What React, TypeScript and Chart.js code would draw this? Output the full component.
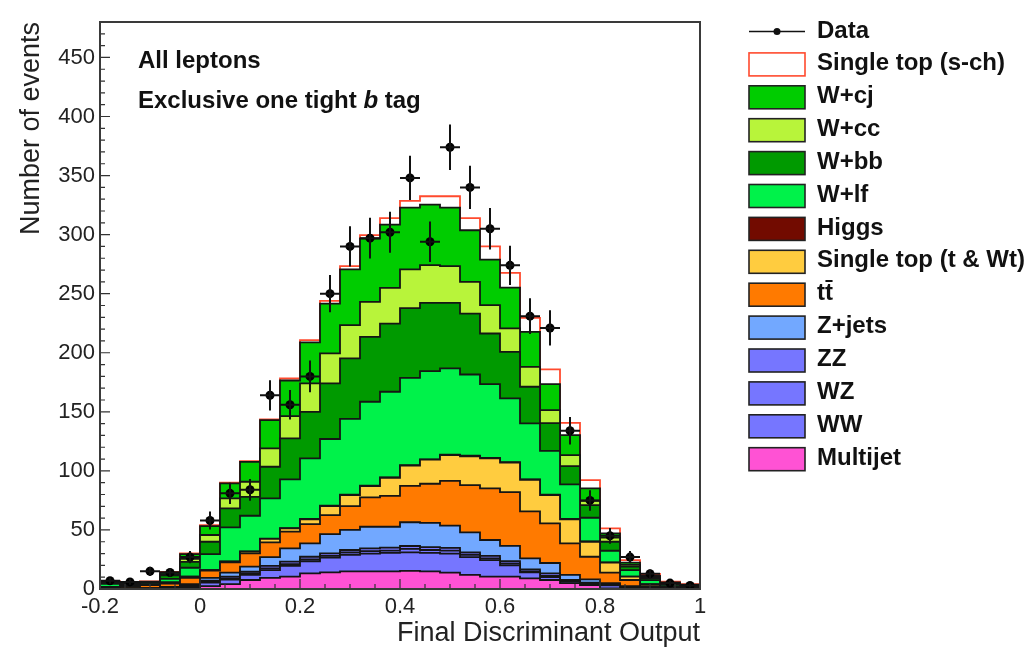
import React, { useEffect, useRef } from "react";
import { Chart, registerables } from "chart.js";

Chart.register(...registerables);

const FONT = "'Liberation Sans', Arial, Helvetica, sans-serif";

// ---- binning (31 edges -> 30 bins) ----
const binEdges = [-0.2, -0.16, -0.12, -0.08, -0.04, 0.0, 0.04, 0.08, 0.12, 0.16, 0.2, 0.24, 0.28, 0.32, 0.36, 0.4, 0.44, 0.48, 0.52, 0.56, 0.6, 0.64, 0.68, 0.72, 0.76, 0.8, 0.84, 0.88, 0.92, 0.96, 1.0];

// ---- observed data ----
const dataCounts = [7, 6, 15, 14, 27, 58, 81, 84, 164, 156, 180, 250, 290, 297, 302, 348, 294, 374, 340, 305, 274, 231, 221, 134, 75, 45, 27, 13, 5, 3];
const dataErrors = [2.6, 2.4, 3.9, 3.7, 5.2, 7.6, 9.0, 9.2, 12.8, 12.5, 13.4, 15.8, 17.0, 17.2, 17.4, 18.7, 17.1, 19.3, 18.4, 17.5, 16.6, 15.2, 14.9, 11.6, 8.7, 6.7, 5.2, 3.6, 2.2, 1.7];

// ---- stacked backgrounds (bottom to top), events per bin ----
const multijet = [0.1, 0.1, 0.1, 0.3, 1.0, 2.5, 4.2, 7.6, 9.5, 10.4, 13.3, 14.0, 15.0, 15.0, 15.0, 15.3, 15.0, 13.8, 12.0, 10.4, 10.4, 9.0, 7.6, 5.0, 3.4, 0.5, 0.5, 0.2, 0.1, 0.0];
const ww = [0.1, 0.1, 0.2, 0.5, 1.0, 3.0, 3.8, 4.4, 6.5, 9.1, 10.2, 12.5, 14.0, 15.0, 15.5, 15.7, 15.5, 16.2, 15.0, 14.1, 9.6, 5.0, 2.4, 1.2, 1.1, 2.5, 0.9, 0.3, 0.1, 0.1];
const wz = [0.1, 0.0, 0.1, 0.2, 0.5, 0.5, 1.0, 1.0, 1.5, 1.5, 1.5, 1.5, 2.0, 2.0, 2.0, 3.0, 2.5, 2.5, 2.0, 1.5, 1.5, 1.0, 1.0, 0.7, 0.4, 0.5, 0.2, 0.1, 0.1, 0.0];
const zz = [0.1, 0.1, 0.1, 0.2, 0.5, 1.0, 1.4, 1.6, 2.0, 2.1, 2.3, 2.2, 2.0, 2.4, 2.5, 2.4, 2.5, 2.3, 2.0, 2.0, 2.0, 1.6, 2.3, 0.9, 0.4, 0.5, 0.2, 0.1, 0.0, 0.1];
const zjets = [0.2, 0.2, 0.3, 0.6, 1.2, 2.5, 3.4, 4.3, 7.5, 11.3, 11.3, 16.3, 17.0, 18.3, 17.7, 20.1, 20.5, 18.8, 17.0, 13.5, 13.0, 9.4, 8.7, 4.2, 2.9, 1.0, 0.7, 0.3, 0.2, 0.1];
const ttbar = [0.9, 1.3, 2.6, 2.7, 5.3, 6.0, 8.7, 11.3, 12.5, 14.1, 16.4, 16.1, 20.2, 24.9, 26.1, 30.8, 33.1, 38.0, 40.0, 43.7, 45.5, 39.7, 33.6, 26.6, 19.1, 8.8, 5.1, 1.5, 0.5, 0.2];
const singleTopT = [0.3, 0.2, 0.4, 1.0, 1.0, 0.5, 0.6, 1.4, 3.0, 2.8, 4.0, 7.6, 9.3, 9.5, 15.4, 17.2, 20.4, 21.8, 24.4, 25.5, 25.0, 26.8, 23.9, 20.4, 12.7, 8.5, 2.8, 1.5, 1.0, 0.5];
const higgs = [0, 0, 0, 0, 0, 0, 0.2, 0.2, 0.2, 0.3, 0.3, 0.3, 0.3, 0.3, 0.3, 0.3, 0.3, 0.4, 0.4, 0.3, 0.3, 0.3, 0.3, 0.3, 0.3, 0.2, 0.1, 0.2, 0, 0];
const wlf = [2.6, 1.0, 1.5, 3.0, 7.5, 13.6, 28.9, 30.2, 34.0, 41.2, 51.3, 56.5, 64.2, 71.1, 72.5, 74.0, 74.6, 72.9, 68.8, 62.4, 54.0, 47.4, 37.2, 29.3, 20.0, 9.9, 5.5, 3.3, 1.5, 1.0];
const wbb = [0.9, 1.2, 0.6, 3.0, 5.0, 10.4, 16.0, 16.0, 26.8, 34.7, 39.4, 47.0, 51.2, 55.0, 57.6, 59.0, 57.8, 55.5, 51.6, 42.9, 39.5, 31.0, 23.5, 15.4, 10.7, 7.6, 3.0, 1.5, 1.0, 1.0];
const wcc = [0.5, 0.4, 0.2, 1.0, 2.5, 5.7, 8.5, 12.8, 15.5, 18.9, 24.0, 25.4, 28.2, 29.5, 30.4, 32.8, 31.9, 31.1, 26.8, 24.0, 19.8, 16.8, 10.9, 9.4, 3.7, 3.5, 1.5, 1.0, 0.5, 0.3];
const wcj = [0.4, 0.4, 0.2, 1.5, 4.0, 7.6, 12.7, 16.9, 24.0, 30.1, 34.7, 42.2, 47.1, 53.7, 53.4, 52.3, 51.3, 49.6, 43.7, 38.6, 34.6, 29.7, 22.0, 16.9, 10.5, 3.6, 1.8, 1.0, 0.5, 0.3];
const singleTopS = [0.3, 0.2, 0.2, 0.5, 0.7, 0.7, 0.6, 0.5, 0.6, 1.7, 2.0, 2.3, 2.8, 2.8, 5.6, 5.6, 7.1, 9.6, 10.3, 11.1, 12.4, 11.8, 12.5, 10.4, 7.0, 4.2, 2.2, 1.7, 0.7, 0.6];

// ---- axis ticks ----
const xTickValues = [-0.2, 0, 0.2, 0.4, 0.6, 0.8, 1];
const xTickLabels = ["-0.2", "0", "0.2", "0.4", "0.6", "0.8", "1"];
const yTickValues = [0, 50, 100, 150, 200, 250, 300, 350, 400, 450];
const yTickLabels = ["0", "50", "100", "150", "200", "250", "300", "350", "400", "450"];

const PURPLE = "#7676ff";
const components = [
  { label: "Multijet", values: multijet, fill: "#ff52d4", line: "#151515" },
  { label: "WW", values: ww, fill: PURPLE, line: "#151515" },
  { label: "WZ", values: wz, fill: PURPLE, line: "#151515" },
  { label: "ZZ", values: zz, fill: PURPLE, line: "#151515" },
  { label: "Z+jets", values: zjets, fill: "#72a8ff", line: "#151515" },
  { label: "t\u0074\u0304", values: ttbar, fill: "#ff7a00", line: "#151515" },
  { label: "Single top (t & Wt)", values: singleTopT, fill: "#ffcc3f", line: "#151515" },
  { label: "Higgs", values: higgs, fill: "#720b00", line: "#151515" },
  { label: "W+lf", values: wlf, fill: "#00f24a", line: "#151515" },
  { label: "W+bb", values: wbb, fill: "#009a00", line: "#151515" },
  { label: "W+cc", values: wcc, fill: "#b8f43a", line: "#151515" },
  { label: "W+cj", values: wcj, fill: "#00cc00", line: "#151515" },
  { label: "Single top (s-ch)", values: singleTopS, fill: "#ffffff", line: "#ff4a2e" },
];

const legendOrder = [
  "Single top (s-ch)", "W+cj", "W+cc", "W+bb", "W+lf", "Higgs",
  "Single top (t & Wt)", "t\u0074\u0304", "Z+jets", "ZZ", "WZ", "WW", "Multijet",
];

const nBins = binEdges.length - 1;
const binCenters = dataCounts.map((_, i) => (binEdges[i] + binEdges[i + 1]) / 2);

function cumulative() {
  const out: number[][] = [];
  let run = new Array(nBins).fill(0);
  components.forEach((c) => {
    run = run.map((v, i) => v + c.values[i]);
    out.push(run.slice());
  });
  return out;
}

const decorPlugin = {
  id: "rootDecor",
  afterDatasetsDraw(chart: any) {
    const { ctx } = chart;
    const x = chart.scales.x;
    const y = chart.scales.y;
    ctx.save();
    ctx.strokeStyle = "#111";
    ctx.lineWidth = 2;
    dataCounts.forEach((n, i) => {
      const cx = x.getPixelForValue(binCenters[i]);
      const cy = y.getPixelForValue(n);
      const t = y.getPixelForValue(n + dataErrors[i]);
      const b = y.getPixelForValue(Math.max(0, n - dataErrors[i]));
      const l = x.getPixelForValue(binEdges[i]);
      const r = x.getPixelForValue(binEdges[i + 1]);
      ctx.beginPath();
      ctx.moveTo(cx, t);
      ctx.lineTo(cx, b);
      ctx.moveTo(l, cy);
      ctx.lineTo(r, cy);
      ctx.stroke();
    });
    ctx.restore();
  },
  afterDraw(chart: any) {
    const { ctx, chartArea: a } = chart;
    const x = chart.scales.x;
    const y = chart.scales.y;
    ctx.save();
    // inward ticks
    ctx.strokeStyle = "#333";
    ctx.lineWidth = 1.2;
    ctx.beginPath();
    for (let v = 0; v < 480; v += 10) {
      const py = y.getPixelForValue(v);
      const major = v % 50 === 0;
      ctx.moveTo(a.left, py);
      ctx.lineTo(a.left + (major ? 10 : 5), py);
    }
    for (let k = 0; k <= 24; k++) {
      const px = x.getPixelForValue(-0.2 + k * 0.05);
      const major = k % 4 === 0;
      ctx.moveTo(px, a.bottom);
      ctx.lineTo(px, a.bottom - (major ? 10 : 5));
    }
    ctx.stroke();
    // frame
    ctx.lineWidth = 2;
    ctx.strokeStyle = "#3a3a3a";
    ctx.strokeRect(a.left, a.top, a.right - a.left, a.bottom - a.top);

    // annotations
    ctx.fillStyle = "#111";
    ctx.textBaseline = "middle";
    ctx.textAlign = "left";
    ctx.font = `bold 24px ${FONT}`;
    ctx.fillText("All leptons", 138, 61);
    let tx = 138;
    const seg1 = "Exclusive one tight ";
    ctx.fillText(seg1, tx, 101);
    tx += ctx.measureText(seg1).width;
    ctx.font = `italic bold 24px ${FONT}`;
    ctx.fillText("b", tx, 101);
    tx += ctx.measureText("b").width;
    ctx.font = `bold 24px ${FONT}`;
    ctx.fillText(" tag", tx, 101);

    // legend
    const bx = 749, bw = 56, bh = 23, textX = 817;
    const step = 32.9, y0 = 31.5;
    ctx.strokeStyle = "#111";
    ctx.lineWidth = 1.5;
    ctx.beginPath();
    ctx.moveTo(bx, y0);
    ctx.lineTo(bx + bw, y0);
    ctx.stroke();
    ctx.fillStyle = "#111";
    ctx.beginPath();
    ctx.arc(bx + bw / 2, y0, 3.5, 0, Math.PI * 2);
    ctx.fill();
    ctx.font = `bold 24px ${FONT}`;
    ctx.fillText("Data", textX, y0);
    legendOrder.forEach((name, j) => {
      const c = components.find((cc) => cc.label === name)!;
      const cy = y0 + step * (j + 1);
      ctx.fillStyle = c.fill;
      ctx.fillRect(bx, cy - bh / 2, bw, bh);
      ctx.strokeStyle = name === "Single top (s-ch)" ? c.line : "#222";
      ctx.lineWidth = 1.6;
      ctx.strokeRect(bx, cy - bh / 2, bw, bh);
      ctx.fillStyle = "#111";
      ctx.fillText(name, textX, cy - 1);
    });
    ctx.restore();
  },
};

export default function App() {
  const ref = useRef<HTMLCanvasElement | null>(null);

  useEffect(() => {
    if (!ref.current) return;
    const cum = cumulative();
    const datasets: any[] = [
      {
        type: "line",
        label: "Data",
        data: binCenters.map((c, i) => ({ x: c, y: dataCounts[i] })),
        showLine: false,
        pointRadius: 4.5,
        pointBackgroundColor: "#000",
        pointBorderColor: "#000",
        pointBorderWidth: 0,
        fill: false,
      },
      ...components.map((c, k) => ({
        type: "line",
        label: c.label,
        data: binEdges.map((e, i) => ({ x: e, y: cum[k][Math.min(i, nBins - 1)] })),
        stepped: true,
        fill: "origin",
        backgroundColor: c.fill,
        borderColor: c.line,
        borderWidth: 1.8,
        pointRadius: 0,
        tension: 0,
      })),
    ];

    const chart = new Chart(ref.current, {
      type: "line",
      data: { datasets },
      options: {
        responsive: false,
        animation: false,
        devicePixelRatio: 1,
        layout: { padding: { left: 0, top: 22, right: 329, bottom: 0 } },
        plugins: { legend: { display: false }, tooltip: { enabled: false } },
        scales: {
          x: {
            type: "linear",
            min: -0.2,
            max: 1,
            afterBuildTicks: (s: any) => {
              s.ticks = xTickValues.map((v) => ({ value: v }));
            },
            afterFit: (s: any) => {
              s.height = 61;
            },
            grid: { display: false, drawTicks: false },
            border: { display: false },
            ticks: {
              autoSkip: false,
              maxRotation: 0,
              padding: 5,
              color: "#222",
              font: { family: FONT, size: 22 },
              callback: (_v: any, i: number) => xTickLabels[i],
            },
            title: {
              display: true,
              text: "Final Discriminant Output",
              align: "end",
              color: "#222",
              font: { family: FONT, size: 27 },
              padding: { top: 0, bottom: 0 },
            },
          },
          y: {
            type: "linear",
            min: 0,
            max: 480,
            afterBuildTicks: (s: any) => {
              s.ticks = yTickValues.map((v) => ({ value: v }));
            },
            afterFit: (s: any) => {
              s.width = 100;
            },
            grid: { display: false, drawTicks: false },
            border: { display: false },
            ticks: {
              autoSkip: false,
              padding: 5,
              color: "#222",
              font: { family: FONT, size: 22 },
              callback: (_v: any, i: number) => yTickLabels[i],
            },
            title: {
              display: true,
              text: "Number of events",
              align: "end",
              color: "#222",
              font: { family: FONT, size: 27 },
              padding: { top: 15, bottom: 0 },
            },
          },
        },
      },
      plugins: [decorPlugin],
    } as any);
    return () => chart.destroy();
  }, []);

  return (
    <div style={{ position: "fixed", left: 0, top: 0, width: 1029, height: 650, background: "#fff" }}>
      <canvas ref={ref} width={1029} height={650} style={{ display: "block", width: 1029, height: 650 }} />
    </div>
  );
}
